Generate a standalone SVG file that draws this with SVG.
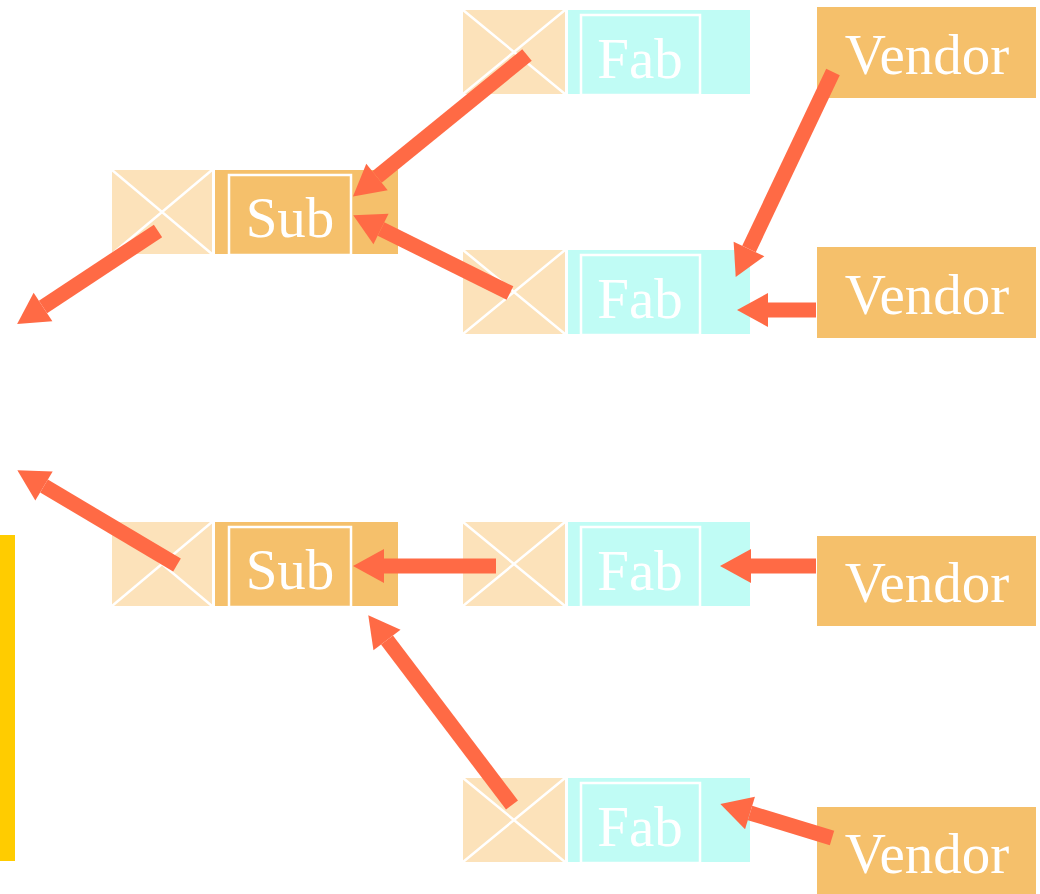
<svg xmlns="http://www.w3.org/2000/svg" width="1040" height="894" viewBox="0 0 1040 894">
  <defs>
    <style>
      .xbox { fill: #FCE2BA; }
      .xline { stroke: #FFFFFF; stroke-width: 2.5; fill: none; }
      .sub { fill: #F5C06B; }
      .fab { fill: #C0FCF5; }
      .vendor { fill: #F5C06B; }
      .inner { fill: none; stroke: #FFFFFF; stroke-width: 2.5; }
      .label { font-family: "Liberation Serif", "Times New Roman", serif; font-size: 57px; fill: #FFFFFF; text-anchor: middle; }
      .arrow { stroke: #FF6A45; stroke-width: 15; fill: none; marker-end: url(#head); }
    </style>
    <marker id="head" markerUnits="userSpaceOnUse" viewBox="0 -18 32 36" refX="0" refY="0" markerWidth="32" markerHeight="36" orient="auto" overflow="visible">
      <path d="M0,-17 L31,0 L0,17 Z" fill="#FF6A45"/>
    </marker>
  </defs>

  <rect width="1040" height="894" fill="#FFFFFF"/>

  <!-- side bar -->
  <rect id="bar" x="0" y="535" width="15" height="326" fill="#FFCC00"/>

  <!-- Sub (upper) -->
  <g id="sub1">
    <rect class="xbox" x="112" y="170" width="100" height="84"/>
    <path class="xline" d="M112,170 L212,254 M212,170 L112,254"/>
    <rect class="sub" x="215" y="170" width="183" height="84"/>
    <rect class="inner" x="229" y="175" width="122" height="80"/>
    <text class="label" x="290" y="237">Sub</text>
  </g>

  <!-- Sub (lower) -->
  <g id="sub2">
    <rect class="xbox" x="112" y="522" width="100" height="84"/>
    <path class="xline" d="M112,522 L212,606 M212,522 L112,606"/>
    <rect class="sub" x="215" y="522" width="183" height="84"/>
    <rect class="inner" x="229" y="527" width="122" height="80"/>
    <text class="label" x="290" y="589">Sub</text>
  </g>

  <!-- Fab nodes -->
  <g id="fab1">
    <rect class="xbox" x="463" y="10" width="102" height="84"/>
    <path class="xline" d="M463,10 L565,94 M565,10 L463,94"/>
    <rect class="fab" x="568" y="10" width="182" height="84"/>
    <rect class="inner" x="581" y="15" width="119" height="80"/>
    <text class="label" x="640" y="78">Fab</text>
  </g>

  <g id="fab2">
    <rect class="xbox" x="463" y="250" width="102" height="84"/>
    <path class="xline" d="M463,250 L565,334 M565,250 L463,334"/>
    <rect class="fab" x="568" y="250" width="182" height="84"/>
    <rect class="inner" x="581" y="255" width="119" height="80"/>
    <text class="label" x="640" y="318">Fab</text>
  </g>

  <g id="fab3">
    <rect class="xbox" x="463" y="522" width="102" height="84"/>
    <path class="xline" d="M463,522 L565,606 M565,522 L463,606"/>
    <rect class="fab" x="568" y="522" width="182" height="84"/>
    <rect class="inner" x="581" y="527" width="119" height="80"/>
    <text class="label" x="640" y="590">Fab</text>
  </g>

  <g id="fab4">
    <rect class="xbox" x="463" y="778" width="102" height="84"/>
    <path class="xline" d="M463,778 L565,862 M565,778 L463,862"/>
    <rect class="fab" x="568" y="778" width="182" height="84"/>
    <rect class="inner" x="581" y="783" width="119" height="80"/>
    <text class="label" x="640" y="846">Fab</text>
  </g>

  <!-- Vendor nodes -->
  <g id="vendor1">
    <rect class="vendor" x="817" y="7" width="219" height="91"/>
    <text class="label" x="927" y="74">Vendor</text>
  </g>
  <g id="vendor2">
    <rect class="vendor" x="817" y="247" width="219" height="91"/>
    <text class="label" x="927" y="314">Vendor</text>
  </g>
  <g id="vendor3">
    <rect class="vendor" x="817" y="536" width="219" height="90"/>
    <text class="label" x="927" y="602">Vendor</text>
  </g>
  <g id="vendor4">
    <rect class="vendor" x="817" y="807" width="219" height="87"/>
    <text class="label" x="927" y="873">Vendor</text>
  </g>

  <!-- connectors: each line ends at the base of its arrowhead -->
  <g id="connectors">
    <line class="arrow" x1="527" y1="55" x2="377" y2="177"/>
    <line class="arrow" x1="510" y1="293" x2="381" y2="229"/>
    <line class="arrow" x1="158" y1="231" x2="43" y2="307"/>
    <line class="arrow" x1="833" y1="72" x2="749" y2="249"/>
    <line class="arrow" x1="816" y1="310" x2="768" y2="310"/>
    <line class="arrow" x1="177" y1="565" x2="44" y2="486"/>
    <line class="arrow" x1="496" y1="566" x2="384" y2="566"/>
    <line class="arrow" x1="816" y1="566" x2="751" y2="566"/>
    <line class="arrow" x1="512" y1="805" x2="387" y2="640"/>
    <line class="arrow" x1="832" y1="838" x2="750" y2="813"/>
  </g>
</svg>
